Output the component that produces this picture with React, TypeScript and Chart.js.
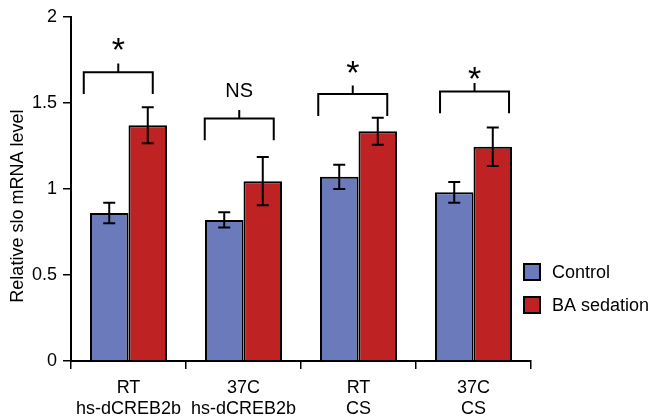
import React, { useEffect, useRef } from "react";
import { Chart, registerables } from "chart.js";

Chart.register(...registerables);

const categories: string[][] = [
  ["RT", "hs-dCREB2b"],
  ["37C", "hs-dCREB2b"],
  ["RT", "CS"],
  ["37C", "CS"],
];
const controlValues = [0.86, 0.82, 1.07, 0.98];
const controlErrors = [0.06, 0.045, 0.07, 0.06];
const baValues = [1.37, 1.045, 1.335, 1.245];
const baErrors = [0.105, 0.14, 0.078, 0.112];
const yTicks = [0, 0.5, 1, 1.5, 2];
const seriesNames = ["Control", "BA sedation"];
const yTitle = "Relative slo mRNA level";

// significance brackets (data units)
const sigLabels = ["*", "NS", "*", "*"];
const sigLineLevel = [1.678, 1.409, 1.551, 1.566];
const sigLabelLevel = [1.84, 1.576, 1.711, 1.676];

const FONT = "'Liberation Sans', Arial, Helvetica, sans-serif";
const BLUE = "#6a7abb";
const RED = "#be2222";

const bracketOffsets = [-0.089, -0.037, -0.05, 0.009]; // fraction of category width
const errorBars = [controlErrors, baErrors];

const overlayPlugin = {
  id: "overlay",
  afterDatasetsDraw(chart: any) {
    const ctx = chart.ctx;
    const xs = chart.scales.x;
    const ys = chart.scales.y;
    ctx.save();
    // error bars
    ctx.strokeStyle = "#000";
    ctx.lineWidth = 2;
    chart.data.datasets.forEach((ds: any, di: number) => {
      const meta = chart.getDatasetMeta(di);
      meta.data.forEach((bar: any, i: number) => {
        const v = ds.data[i];
        const e = errorBars[di][i];
        const yt = ys.getPixelForValue(v + e);
        const yb = ys.getPixelForValue(v - e);
        const x = bar.x;
        const cap = 6;
        ctx.beginPath();
        ctx.moveTo(x, yt);
        ctx.lineTo(x, yb);
        ctx.moveTo(x - cap, yt);
        ctx.lineTo(x + cap, yt);
        ctx.moveTo(x - cap, yb);
        ctx.lineTo(x + cap, yb);
        ctx.stroke();
      });
    });
    // brackets
    const catW = xs.width / categories.length;
    const unit = Math.abs(ys.getPixelForValue(1) - ys.getPixelForValue(0));
    sigLabels.forEach((lab, i) => {
      const cx = xs.getPixelForValue(i) + bracketOffsets[i] * catW;
      const half = 0.3 * catW;
      const y = ys.getPixelForValue(sigLineLevel[i]);
      const legs = 0.127 * unit;
      const stub = 0.05 * unit;
      ctx.lineWidth = 2;
      ctx.beginPath();
      ctx.moveTo(cx - half, y + legs);
      ctx.lineTo(cx - half, y);
      ctx.lineTo(cx + half, y);
      ctx.lineTo(cx + half, y + legs);
      ctx.moveTo(cx, y);
      ctx.lineTo(cx, y - stub);
      ctx.stroke();
      const size = lab === "*" ? 34 : 20;
      ctx.font = `${size}px ${FONT}`;
      ctx.fillStyle = "#000";
      ctx.textAlign = "center";
      ctx.textBaseline = "alphabetic";
      const m = ctx.measureText(lab);
      const cy = ys.getPixelForValue(sigLabelLevel[i]);
      const by = cy + (m.actualBoundingBoxAscent - m.actualBoundingBoxDescent) / 2;
      ctx.fillText(lab, cx, by);
    });
    ctx.restore();
  },
  afterDraw(chart: any) {
    const ctx = chart.ctx;
    const area = chart.chartArea;
    ctx.save();
    // y title
    ctx.font = `18px ${FONT}`;
    ctx.fillStyle = "#000";
    ctx.textAlign = "center";
    ctx.textBaseline = "middle";
    ctx.translate(18, area.top + (area.bottom - area.top) * 0.55);
    ctx.rotate(-Math.PI / 2);
    ctx.fillText(yTitle, 0, 0);
    ctx.restore();
    // legend
    ctx.save();
    const colors = [BLUE, RED];
    const lx = area.right - 7;
    const ly0 = 272;
    seriesNames.forEach((name, i) => {
      const cy = ly0 + i * 33;
      ctx.fillStyle = colors[i];
      ctx.fillRect(lx, cy - 8, 16, 16);
      ctx.strokeStyle = "#000";
      ctx.lineWidth = 2;
      ctx.strokeRect(lx, cy - 8, 16, 16);
      ctx.fillStyle = "#000";
      ctx.font = `18px ${FONT}`;
      ctx.textAlign = "left";
      ctx.textBaseline = "middle";
      ctx.fillText(name, lx + 28, cy + 1);
    });
    ctx.restore();
  },
};

export default function App() {
  const ref = useRef<HTMLCanvasElement>(null);
  useEffect(() => {
    const chart = new Chart(ref.current!, {
      type: "bar",
      data: {
        labels: categories,
        datasets: [
          {
            label: seriesNames[0],
            data: controlValues,
            backgroundColor: BLUE,
            borderColor: "#000",
            borderWidth: 2,
            categoryPercentage: 0.67,
            barPercentage: 1,
          },
          {
            label: seriesNames[1],
            data: baValues,
            backgroundColor: RED,
            borderColor: "#000",
            borderWidth: 2,
            categoryPercentage: 0.67,
            barPercentage: 1,
          },
        ],
      },
      options: {
        responsive: false,
        animation: false,
        devicePixelRatio: 1,
        layout: { padding: { top: 15, right: 121, left: 0, bottom: 0 } },
        plugins: { legend: { display: false }, tooltip: { enabled: false } },
        scales: {
          x: {
            afterFit: (s: any) => {
              s.height = 59;
            },
            grid: {
              offset: true,
              drawOnChartArea: false,
              drawTicks: true,
              tickLength: 8,
              color: "#000",
              lineWidth: 1.5,
            },
            border: { display: true, color: "#000", width: 2 },
            ticks: {
              color: "#000",
              font: { family: FONT, size: 18 },
              padding: 8,
              maxRotation: 0,
              autoSkip: false,
            },
          },
          y: {
            min: 0,
            max: 2,
            afterFit: (s: any) => {
              s.width = 71;
            },
            afterBuildTicks: (s: any) => {
              s.ticks = yTicks.map((v) => ({ value: v }));
            },
            grid: {
              drawOnChartArea: false,
              drawTicks: true,
              tickLength: 8,
              color: "#000",
              lineWidth: 1.5,
            },
            border: { display: true, color: "#000", width: 2 },
            ticks: {
              color: "#000",
              font: { family: FONT, size: 18 },
              padding: 6,
              callback: (v: any) => String(v),
            },
          },
        },
      },
      plugins: [overlayPlugin],
    });
    return () => chart.destroy();
  }, []);
  return (
    <div style={{ position: "absolute", left: 0, top: 0, width: 652, height: 420 }}>
      <canvas ref={ref} width={652} height={420} />
    </div>
  );
}
